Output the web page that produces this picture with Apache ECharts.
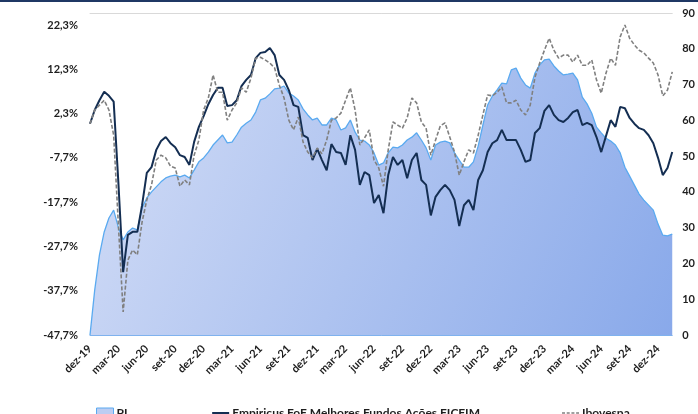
<!DOCTYPE html>
<html>
<head>
<meta charset="utf-8">
<script src="https://cdn.jsdelivr.net/npm/echarts@6/dist/echarts.min.js"></script>
<style>
  html, body { margin: 0; padding: 0; background: #fff; }
  #wrap { position: relative; width: 698px; height: 414px; overflow: hidden; }
  #topo { position: absolute; left: 0; top: 0; width: 698px; height: 2px; background: #1f3864; z-index: 2; }
  #chart { position: absolute; left: 0; top: 0; width: 698px; height: 414px; }
</style>
</head>
<body>
<div id="wrap">
  <div id="topo"></div>
  <div id="chart"></div>
</div>
<script>
// meses (rótulos do eixo x), dois pontos por mês: dez-19 até jan-25
var meses = ['jan', 'fev', 'mar', 'abr', 'mai', 'jun', 'jul', 'ago', 'set', 'out', 'nov', 'dez'];

// rentabilidade acumulada (%) - eixo esquerdo
var empiricus = [
  0.0, 3.1, 5.3, 7.2, 6.3, 5.0, -13.4, -33.5, -25.1, -24.4, -24.4, -18.4,
  -11.1, -9.8, -5.9, -3.9, -3.0, -4.4, -5.3, -7.1, -7.5, -9.3, -4.1, -0.7,
  1.7, 4.4, 6.5, 8.1, 8.1, 4.0, 4.2, 5.3, 8.5, 9.9, 11.0, 14.8,
  16.0, 16.2, 17.1, 15.5, 11.0, 9.9, 7.6, 4.2, 3.8, -2.6, -3.2, -8.2,
  -5.7, -8.2, -10.5, -4.6, -6.4, -6.6, -9.3, -2.6, -5.9, -13.8, -10.9, -11.6,
  -17.9, -16.1, -20.2, -11.6, -7.5, -9.3, -8.2, -12.3, -8.2, -6.6, -12.7, -13.8,
  -20.7, -16.5, -15.0, -13.8, -15.0, -17.2, -23.1, -18.4, -17.2, -19.5, -12.7, -10.5,
  -6.4, -4.4, -3.7, -1.4, -3.7, -3.7, -3.7, -5.9, -8.6, -8.2, -2.1, -1.0,
  2.9, 4.2, 2.0, 0.8, 0.4, 1.3, 2.6, 3.1, -0.3, 0.2, -0.3, -3.0,
  -6.4, -2.8, 0.8, -0.7, 3.8, 3.5, 1.3, 0.0, -1.0, -1.4, -2.6, -4.4,
  -7.7, -11.6, -10.0, -6.4
];

var ibovespa = [
  0.0, 3.1, 4.2, 5.3, 3.1, -2.6, -22.9, -42.5, -30.8, -28.5, -29.6, -22.2,
  -17.2, -13.8, -8.2, -7.1, -7.7, -9.6, -10.0, -14.1, -12.7, -13.8, -7.1, -3.7,
  3.1, 5.8, 11.0, 7.1, 7.1, 0.8, 3.1, 4.7, 8.1, 7.1, 10.3, 14.8,
  15.0, 14.4, 13.7, 12.6, 8.7, 5.8, 0.8, -1.4, 1.5, -4.1, -6.4, -7.7,
  -5.5, -6.8, -3.7, 0.8, 1.3, 2.4, 5.3, 8.1, 3.1, -4.8, -3.2, -1.4,
  -8.2, -10.0, -14.1, -5.9, 0.4, -0.3, -1.0, 1.3, 5.8, 4.7, 0.4, -1.0,
  -7.1, -3.7, -0.5, 0.2, -3.0, -6.4, -11.6, -8.6, -5.9, -6.6, -2.6, 2.0,
  6.5, 6.3, 7.1, 8.3, 4.7, 4.7, 5.3, 3.1, 2.0, 4.2, 10.5, 13.7,
  16.6, 19.3, 16.6, 14.8, 15.5, 15.5, 13.9, 15.5, 13.2, 13.2, 14.4, 9.9,
  6.9, 11.4, 14.8, 13.2, 19.6, 22.3, 19.3, 17.8, 16.6, 16.0, 14.8, 13.7,
  11.0, 6.3, 7.6, 11.7
];

// patrimônio líquido - eixo direito
var pl = [
  0, 12.6, 22.4, 28.8, 32.7, 34.9, 30.0, 26.6, 28.8, 29.9, 29.4, 35.5,
  38.3, 40.0, 41.4, 42.8, 43.9, 44.4, 44.7, 44.2, 44.7, 43.9, 46.1, 48.4,
  49.5, 51.1, 53.1, 54.5, 55.9, 53.7, 53.9, 55.9, 58.1, 59.2, 60.1, 62.3,
  65.7, 66.2, 67.4, 68.8, 69.0, 69.6, 67.6, 66.8, 65.7, 63.2, 61.5, 60.1,
  60.6, 58.7, 58.7, 60.6, 60.1, 57.3, 57.9, 60.1, 56.7, 54.5, 54.2, 53.1,
  50.9, 47.5, 48.1, 50.9, 52.5, 52.3, 53.1, 54.5, 55.3, 56.5, 54.5, 52.3,
  48.9, 53.1, 53.9, 54.2, 53.7, 50.9, 48.9, 46.9, 46.9, 48.4, 52.8, 58.7,
  64.3, 66.8, 68.5, 70.4, 70.2, 74.1, 74.6, 71.8, 69.9, 69.0, 73.2, 75.5,
  76.9, 77.1, 75.2, 73.8, 72.7, 72.9, 73.2, 71.3, 66.5, 64.6, 62.0, 58.1,
  56.5, 55.0, 54.2, 53.1, 50.9, 46.9, 44.4, 41.9, 39.4, 37.7, 36.3, 34.9,
  31.0, 27.9, 27.7, 28.2
];

// rótulos do eixo esquerdo
var ticksEsq = [-47.7, -37.7, -27.7, -17.7, -7.7, 2.3, 12.3, 22.3];

// monta as categorias (duas quinzenas por mês)
var categorias = [];
var ano = 19, m = 11;
while (categorias.length < pl.length) {
  var rot = meses[m] + '-' + ano;
  categorias.push(rot + '|1');
  categorias.push(rot + '|2');
  m++;
  if (m > 11) { m = 0; ano++; }
}

var fonte = 'Lato, "Open Sans", sans-serif';
var corTexto = '#1e1e1e';

// ícones da legenda (linha cheia e tracejada)
var iconeLinha = 'path://M0,0 M0,4 L17,4 L17,6 L0,6 Z M17,10';
var iconeTraco = 'path://M0,0 M0,4.3 L3,4.3 L3,5.7 L0,5.7 Z M4.7,4.3 L7.7,4.3 L7.7,5.7 L4.7,5.7 Z M9.4,4.3 L12.4,4.3 L12.4,5.7 L9.4,5.7 Z M14.1,4.3 L17,4.3 L17,5.7 L14.1,5.7 Z M17,10';

var myChart = echarts.init(document.getElementById('chart'));
var option = {
  animation: false,
  textStyle: { fontFamily: fonte },
  grid: { left: 90, right: 25, top: 13, bottom: 79 },
  legend: {
    left: 91,
    top: 402,
    itemGap: 82,
    itemWidth: 17,
    itemHeight: 10,
    textStyle: { fontFamily: fonte, fontSize: 12, fontWeight: 'bold', color: corTexto, padding: [0, 0, 0, -2] },
    data: [
      { name: 'PL', icon: 'rect', itemStyle: { color: '#bccdf2', borderColor: '#5aaaf0', borderWidth: 1 } },
      { name: 'Empiricus FoF Melhores Fundos Ações FICFIM', icon: iconeLinha, itemStyle: { color: '#142e52', borderWidth: 0 } },
      { name: 'Ibovespa', icon: iconeTraco, itemStyle: { color: '#808080', borderWidth: 0 } }
    ]
  },
  xAxis: [
    {
      type: 'category',
      data: categorias,
      boundaryGap: false,
      axisLine: { show: true, onZero: false, lineStyle: { color: '#7fb2ee', width: 1 } },
      axisTick: { show: false },
      splitLine: { show: false },
      axisLabel: {
        rotate: 45,
        margin: 12,
        fontFamily: fonte,
        fontSize: 11,
        fontWeight: 'bold',
        color: corTexto,
        interval: function (i) { return i % 6 === 0; },
        formatter: function (v) { return v.split('|')[0]; }
      }
    },
    {
      type: 'category',
      position: 'top',
      data: categorias,
      boundaryGap: false,
      axisLine: { show: true, onZero: false, lineStyle: { color: '#d9d9d9', width: 1 } },
      axisTick: { show: false },
      axisLabel: { show: false },
      splitLine: { show: false }
    }
  ],
  yAxis: [
    {
      type: 'value',
      min: -47.7,
      max: 25.0,
      splitLine: { show: false },
      axisLine: { show: false },
      axisTick: { show: false },
      axisLabel: {
        customValues: ticksEsq,
        margin: 12,
        fontFamily: fonte,
        fontSize: 11,
        fontWeight: 'bold',
        color: corTexto,
        formatter: function (v) { return v.toFixed(1).replace('.', ',') + '%'; }
      }
    },
    {
      type: 'value',
      min: 0,
      max: 90,
      interval: 10,
      position: 'right',
      splitLine: { show: false },
      axisLine: { show: false },
      axisTick: { show: false },
      axisLabel: {
        margin: 10,
        fontFamily: fonte,
        fontSize: 11,
        fontWeight: 'bold',
        color: corTexto
      }
    }
  ],
  series: [
    {
      name: 'PL',
      type: 'line',
      yAxisIndex: 1,
      data: pl,
      symbol: 'none',
      lineStyle: { color: '#5aaaf0', width: 1.3 },
      itemStyle: { color: '#5aaaf0' },
      areaStyle: {
        opacity: 1,
        color: new echarts.graphic.LinearGradient(0, 0, 1, 1, [
          { offset: 0, color: '#d3ddf6' },
          { offset: 1, color: '#89a9ea' }
        ])
      },
      z: 1
    },
    {
      name: 'Empiricus FoF Melhores Fundos Ações FICFIM',
      type: 'line',
      yAxisIndex: 0,
      data: empiricus,
      symbol: 'none',
      lineStyle: { color: '#142e52', width: 2 },
      itemStyle: { color: '#142e52' },
      z: 3
    },
    {
      name: 'Ibovespa',
      type: 'line',
      yAxisIndex: 0,
      data: ibovespa,
      symbol: 'none',
      lineStyle: { color: '#808080', width: 1.6, type: [4, 2] },
      itemStyle: { color: '#808080' },
      z: 4
    }
  ]
};
myChart.setOption(option);
</script>
</body>
</html>
